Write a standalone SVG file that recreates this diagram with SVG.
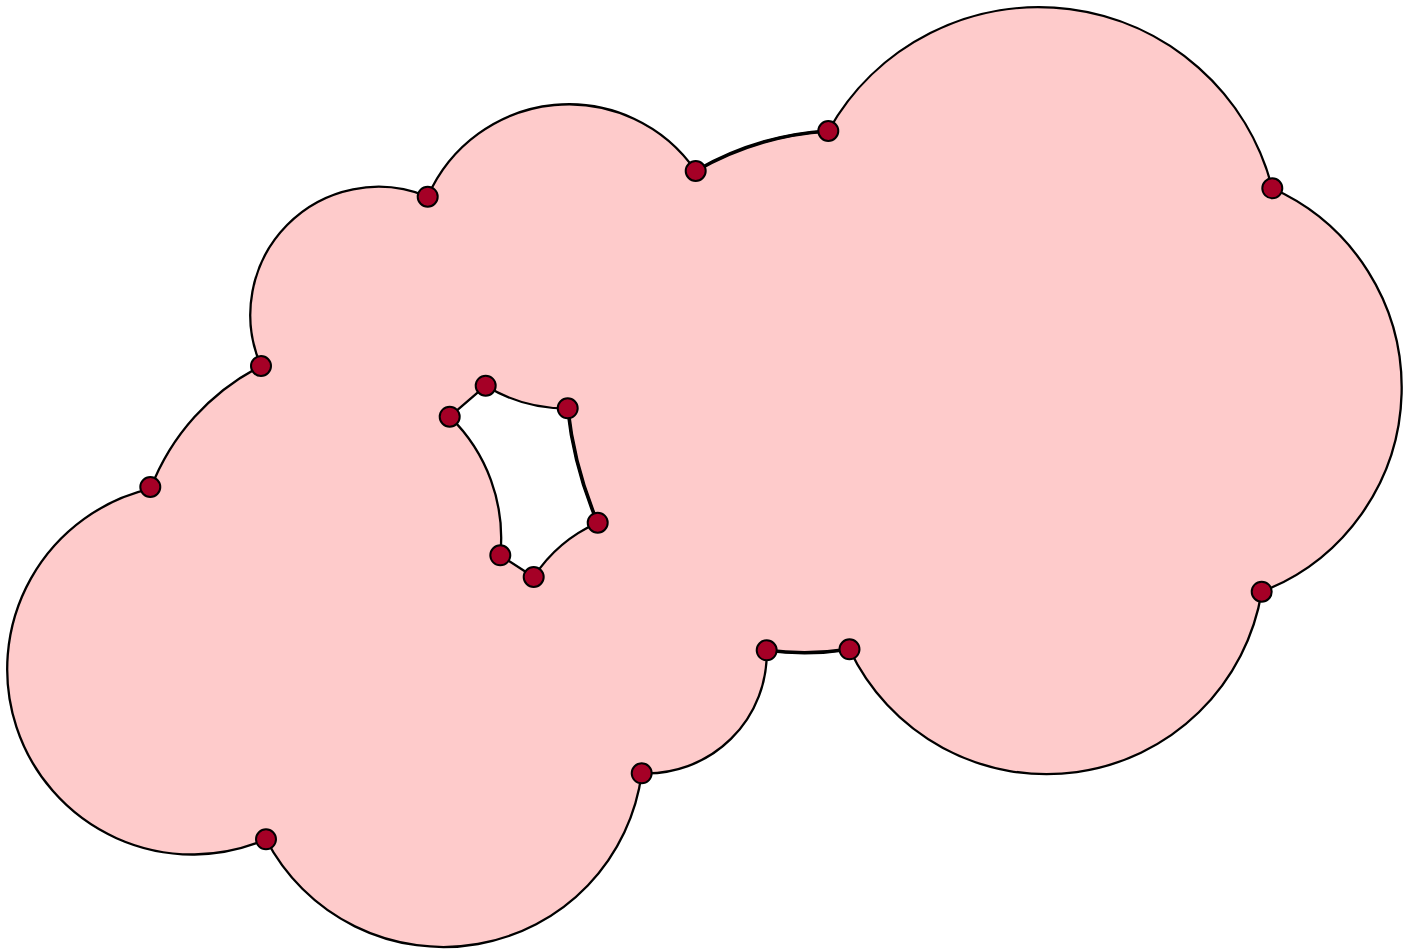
<svg xmlns="http://www.w3.org/2000/svg" width="1406" height="950" viewBox="0 0 1406 950">
  <style>
    .region { fill: #fecbcb; stroke: #000; stroke-width: 2.3; fill-rule: evenodd; stroke-linejoin: round; }
    .thick { fill: none; stroke: #000; stroke-width: 3.6; }
    .v { fill: #a50026; stroke: #000; stroke-width: 2; }
  </style>
  <rect width="1406" height="950" fill="#ffffff"/>
  <g id="connectors">
    <path class="region" d="M 427.7 196.7 A 154 154 0 0 1 695.7 171 A 301 301 0 0 1 828.3 131 A 241 241 0 0 1 1272.3 188.3 A 218.5 218.5 0 0 1 1261.7 591.7 A 218 218 0 0 1 849.5 649.3 A 300 300 0 0 1 766.7 650.3 A 120 120 0 0 1 641.7 773.3 A 200 200 0 0 1 266 839.3 A 185.3 185.3 0 1 1 150.6 488.7 A 230 230 0 0 1 261 366 A 128 128 0 0 1 427.7 196.7 Z M 449.7 416.7 L 485.7 385.7 A 152 152 0 0 0 567.7 408.3 A 400 400 0 0 0 597.7 522.7 A 148 148 0 0 0 533.7 577 L 500.3 555.3 A 169 169 0 0 0 449.7 416.7 Z"/>
    <path class="thick" d="M 695.7 171 A 301 301 0 0 1 828.3 131"/>
    <path class="thick" d="M 849.5 649.3 A 300 300 0 0 1 766.7 650.3"/>
    <path class="thick" d="M 567.7 408.3 A 400 400 0 0 0 597.7 522.7"/>
  </g>
  <g id="v1"><circle class="v" cx="427.7" cy="196.7" r="10"/></g>
  <g id="v2"><circle class="v" cx="695.7" cy="171" r="10"/></g>
  <g id="v3"><circle class="v" cx="828.3" cy="131" r="10"/></g>
  <g id="v4"><circle class="v" cx="1272.3" cy="188.3" r="10"/></g>
  <g id="v5"><circle class="v" cx="1261.7" cy="591.7" r="10"/></g>
  <g id="v6"><circle class="v" cx="849.5" cy="649.3" r="10"/></g>
  <g id="v7"><circle class="v" cx="766.7" cy="650.3" r="10"/></g>
  <g id="v8"><circle class="v" cx="641.7" cy="773.3" r="10"/></g>
  <g id="v9"><circle class="v" cx="266" cy="839.3" r="10"/></g>
  <g id="v10"><circle class="v" cx="150.3" cy="487" r="10"/></g>
  <g id="v11"><circle class="v" cx="261" cy="366" r="10"/></g>
  <g id="h1"><circle class="v" cx="449.7" cy="416.7" r="10"/></g>
  <g id="h2"><circle class="v" cx="485.7" cy="385.7" r="10"/></g>
  <g id="h3"><circle class="v" cx="567.7" cy="408.3" r="10"/></g>
  <g id="h4"><circle class="v" cx="597.7" cy="522.7" r="10"/></g>
  <g id="h5"><circle class="v" cx="533.7" cy="577" r="10"/></g>
  <g id="h6"><circle class="v" cx="500.3" cy="555.3" r="10"/></g>
</svg>
